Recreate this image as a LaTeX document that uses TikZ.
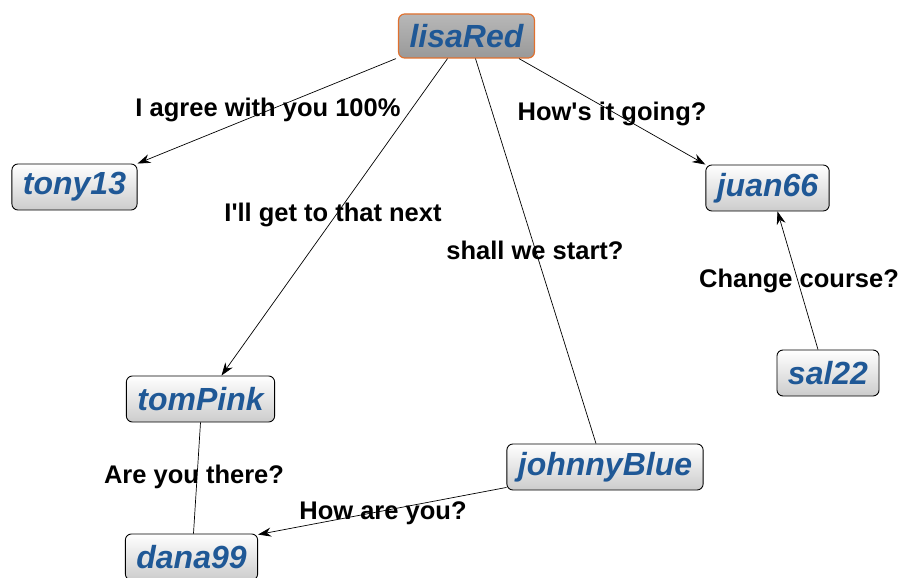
\documentclass[tikz,border=0pt]{standalone}
\usepackage{fontspec}
\setmainfont{Liberation Sans}[Ligatures=TeXOff]
\usetikzlibrary{arrows.meta,shadings}

\definecolor{nametext}{HTML}{1F5896}
\definecolor{redline}{HTML}{E0702E}

\tikzset{
  user/.style={draw=black, line width=0.9pt, rounded corners=6pt,
    top color=white, bottom color=black!20, minimum height=46pt,
    inner xsep=11pt, text=nametext,
    font=\fontsize{32}{32}\selectfont\bfseries\itshape},
  hostuser/.style={user, draw=redline, line width=1.2pt,
    top color=black!28, bottom color=black!40, minimum height=44pt},
  msg/.style={font=\fontsize{25.5}{25.5}\selectfont\bfseries, text=black, inner sep=0pt},
  link/.style={draw=black, line width=0.7pt},
  sent/.style={link, -{Stealth[length=13pt,width=9pt]}}
}

\begin{document}
\begin{tikzpicture}[x=1pt,y=-1pt]
\useasboundingbox (0,0) rectangle (906,578);

% users
\node[hostuser] (lisa)   at (466.5,36)  {lisaRed};
\node[user]     (tony)   at (74.5,187)  {tony13};
\node[user]     (juan)   at (767.5,188) {juan66};
\node[user]     (tom)    at (200.5,399) {tomPink};
\node[user]     (sal)    at (828,373)   {sal22};
\node[user]     (johnny) at (605,467)   {johnnyBlue};
\node[user]     (dana)   at (191.5,557) {dana99};

% messages between users
\draw[sent] ([xshift=-2pt]lisa.south west) -- (tony.north east);
\draw[sent] ([xshift=-19pt]lisa.south) -- ([xshift=21pt]tom.north);
\draw[link] ([xshift=9pt]lisa.south) -- ([xshift=-9pt]johnny.north);
\draw[sent] ([xshift=-16pt]lisa.south east) -- (juan.north west);
\draw[sent] ([xshift=-10pt]sal.north) -- ([xshift=10pt]juan.south);
\draw[link] (tom.south) -- ([xshift=2pt]dana.north);
\draw[sent] ([yshift=3pt]johnny.south west) -- ([yshift=-1pt]dana.north east);

% message texts
\node[msg] (m1) at (268,110) {I agree with you 100\%};
\node[msg] (m2) at (333,215) {I'll get to that next};
\node[msg] (m3) at (535,250) {shall we start?};
\node[msg] (m4) at (612,114) {How's it going?};
\node[msg] (m5) at (799,281) {Change course?};
\node[msg] (m6) at (194,477) {Are you there?};
\node[msg] (m7) at (383,513) {How are you?};
\end{tikzpicture}
\end{document}
